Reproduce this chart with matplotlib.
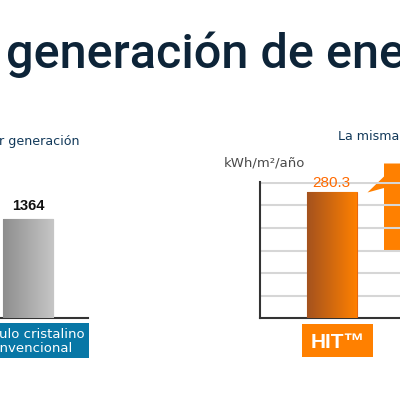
import numpy as np
import matplotlib
matplotlib.use("Agg")
import matplotlib.pyplot as plt
from matplotlib.patches import Polygon, Rectangle
from matplotlib.colors import LinearSegmentedColormap

# ---- data ----
title_text = "generación de energía"
left_subtitle = "r generación"
right_subtitle = "La misma superficie"
unit_label = "kWh/m²/año"
left_categories = ["Módulo cristalino convencional"]
left_values = [1364]
left_label_lines = ["Módulo cristalino", "convencional"]
right_categories = ["HIT™"]
right_values = [280.3]
right_grid = [50, 100, 150, 200, 250, 300]

W, H = 400, 397
fig = plt.figure(figsize=(W / 100, H / 100), dpi=100)
fig.patch.set_facecolor("white")


def px_axes(x0, y0, x1, y1):
    return fig.add_axes([x0 / W, 1 - y1 / H, (x1 - x0) / W, (y1 - y0) / H])


def gradient_bar(ax, bar, c0, c1):
    cmap = LinearSegmentedColormap.from_list("g", [c0, c1])
    x0, y0 = bar.get_x(), bar.get_y()
    w, h = bar.get_width(), bar.get_height()
    grad = np.linspace(0, 1, 256).reshape(1, -1)
    im = ax.imshow(grad, cmap=cmap, aspect="auto", extent=[x0, x0 + w, y0, y0 + h],
                   zorder=bar.get_zorder(), interpolation="bicubic")
    im.set_clip_path(bar)
    bar.set_facecolor("none")


# overlay axes in pixel coords for decorations
deco = fig.add_axes([0, 0, 1, 1])
deco.set_xlim(0, W)
deco.set_ylim(H, 0)
deco.axis("off")

navy = "#0d2438"
deco.text(6, 68, title_text, fontsize=35, color=navy, ha="left", va="baseline",
          family="Roboto", fontweight="medium")
deco.text(-1, 145, left_subtitle, fontsize=9.1, color="#12395a", ha="left",
          va="baseline", family="DejaVu Sans")
deco.text(338, 140, right_subtitle, fontsize=9.1, color="#12395a", ha="left",
          va="baseline", family="DejaVu Sans")
deco.text(224, 167, unit_label, fontsize=9.5, color="#4a4a4a", ha="left",
          va="baseline", family="DejaVu Sans")

# ---- left chart ----
axL = px_axes(-32, 182.7, 88, 318.3)
ymaxL = left_values[0] * 135.6 / 99.3
barsL = axL.bar(range(len(left_values)), left_values, width=0.42,
                edgecolor="#8a8a8a", linewidth=0.8, zorder=3)
axL.set_xlim(-0.5, 0.5)
axL.set_ylim(0, ymaxL)
for b in barsL:
    gradient_bar(axL, b, "#8e8e8e", "#c6c6c6")
for i, v in enumerate(left_values):
    axL.text(i, v + ymaxL * 0.045, f"{v}", ha="center", va="bottom", fontsize=10.5,
             fontweight="bold", family="Liberation Sans", color="#111111")
for s in ["top", "right", "left"]:
    axL.spines[s].set_visible(False)
axL.spines["bottom"].set_color("#333333")
axL.spines["bottom"].set_linewidth(1.5)
axL.set_xticks([])
axL.set_yticks([])
axL.patch.set_alpha(0)

# blue label box
deco.add_patch(Rectangle((-33, 323), 122, 35, facecolor="#0877a6", edgecolor="none"))
deco.text(28, 338.5, left_label_lines[0], ha="center", va="baseline", fontsize=9.5,
          color="white", family="DejaVu Sans")
deco.text(28, 352.5, left_label_lines[1], ha="center", va="baseline", fontsize=9.5,
          color="white", family="DejaVu Sans")

# ---- right chart ----
ymaxR = 302
axR = px_axes(260, 318.3 - 135.6 * ymaxR / 300, 403.4, 318.3)
axR.set_ylim(0, ymaxR)
axR.set_xlim(-0.5, 0.5)
for g in right_grid:
    axR.axhline(g, color="#d6d6d6", linewidth=1.5, zorder=1)
barsR = axR.bar(range(len(right_values)), right_values, width=50 / 143.4,
                edgecolor="#e8660c", linewidth=0.8, zorder=3)
for b in barsR:
    gradient_bar(axR, b, "#a4521e", "#ff8000")
for i, v in enumerate(right_values):
    axR.text(i, v + 4, f"{v}", ha="center", va="bottom", fontsize=11,
             family="Liberation Sans", color="#ff6a00")
for s in ["top", "right"]:
    axR.spines[s].set_visible(False)
axR.spines["left"].set_color("#333333")
axR.spines["left"].set_linewidth(1.5)
axR.spines["bottom"].set_color("#333333")
axR.spines["bottom"].set_linewidth(1.5)
axR.set_xticks([])
axR.set_yticks([])
axR.patch.set_alpha(0)

# orange label box
deco.add_patch(Rectangle((302, 324), 71, 33, facecolor="#ff8000", edgecolor="none"))
deco.text(337.5, 348.5, right_categories[0], ha="center", va="baseline", fontsize=15,
          fontweight="bold", color="white", family="Liberation Sans")

# orange callout
deco.add_patch(Polygon([(367.5, 192.5), (384, 176.5), (384, 163.5), (402, 163.5),
                        (402, 250), (384, 250), (384, 188)], closed=True,
                       facecolor="#ff8000", edgecolor="none"))

fig.savefig("out.png", dpi=100, facecolor="white")
